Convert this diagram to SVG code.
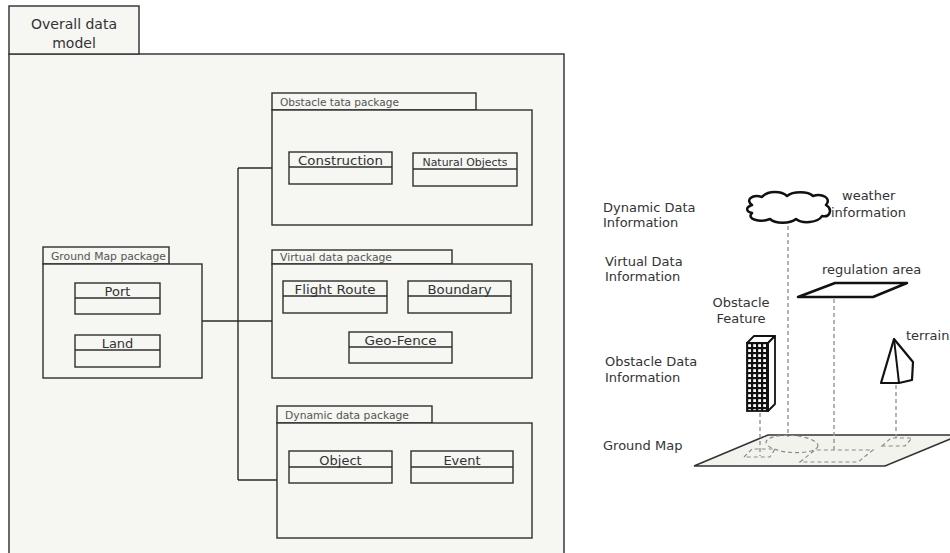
<svg xmlns="http://www.w3.org/2000/svg" width="950" height="553" viewBox="0 0 950 553">
  <style>
    .frame { fill: #f6f6f2; stroke: #3a3a3a; stroke-width: 1.5; }
    .pkg { fill: #f6f6f2; stroke: #2e2e2e; stroke-width: 1.4; }
    .cls { fill: #f6f6f2; stroke: #2e2e2e; stroke-width: 1.4; }
    .div { stroke: #2e2e2e; stroke-width: 1.3; }
    .wire { fill: none; stroke: #2a2a2a; stroke-width: 1.4; }
    .title { font-family: "DejaVu Sans", Verdana, sans-serif; font-size: 14px; fill: #333; text-anchor: middle; }
    .pkglbl { font-family: "DejaVu Sans", Verdana, sans-serif; font-size: 10.5px; fill: #555; }
    .clslbl { font-family: "DejaVu Sans", Verdana, sans-serif; font-size: 13px; fill: #333; text-anchor: middle; }
    .lbl { font-family: "DejaVu Sans", Verdana, sans-serif; font-size: 13px; fill: #333; }
    .drop { fill: none; stroke: #9a9a9a; stroke-width: 1.5; stroke-dasharray: 4 3; }
    .foot { fill: none; stroke: #8a8a8a; stroke-width: 1.2; stroke-dasharray: 4 3; }
    .solid { fill: #fff; stroke: #111; stroke-width: 2.5; stroke-linejoin: round; }
  </style>
  <defs>
    <pattern id="windows" x="747" y="343" width="5" height="5" patternUnits="userSpaceOnUse">
      <rect x="1.2" y="1.2" width="2.8" height="2.8" fill="#fff"/>
    </pattern>
  </defs>

  <rect width="950" height="553" fill="#fff"/>

  <!-- Outer model frame -->
  <g id="overall-model">
    <rect class="frame" x="9" y="54" width="555" height="510"/>
    <rect class="frame" x="9" y="6" width="130" height="48"/>
    <text class="title" x="74" y="29">Overall data</text>
    <text class="title" x="74" y="48">model</text>
  </g>

  <!-- Connectors between packages -->
  <g id="connectors">
    <path class="wire" d="M202,321 H238"/>
    <path class="wire" d="M238,168 V480"/>
    <path class="wire" d="M238,168 H272"/>
    <path class="wire" d="M238,321 H272"/>
    <path class="wire" d="M238,480 H277"/>
  </g>

  <g id="obstacle-package">
    <rect class="pkg" x="272" y="93" width="204" height="17"/>
    <rect class="pkg" x="272" y="110" width="260" height="115"/>
    <text class="pkglbl" x="280" y="106" textLength="119" lengthAdjust="spacingAndGlyphs">Obstacle tata package</text>
    <g id="construction">
      <rect class="cls" x="289" y="152" width="103" height="32"/>
      <line class="div" x1="289" y1="167" x2="392" y2="167"/>
      <text class="clslbl" x="340.5" y="165" textLength="85" lengthAdjust="spacingAndGlyphs">Construction</text>
    </g>
    <g id="natural-objects">
      <rect class="cls" x="413" y="153" width="104" height="33"/>
      <line class="div" x1="413" y1="169" x2="517" y2="169"/>
      <text class="clslbl" x="465" y="166" style="font-size:10.5px" textLength="85" lengthAdjust="spacingAndGlyphs">Natural Objects</text>
    </g>
  </g>

  <g id="ground-map-package">
    <rect class="pkg" x="43" y="247" width="126" height="17"/>
    <rect class="pkg" x="43" y="264" width="159" height="114"/>
    <text class="pkglbl" x="51" y="260" textLength="115" lengthAdjust="spacingAndGlyphs">Ground Map package</text>
    <g id="port">
      <rect class="cls" x="75" y="283" width="85" height="31"/>
      <line class="div" x1="75" y1="298" x2="160" y2="298"/>
      <text class="clslbl" x="117.5" y="296">Port</text>
    </g>
    <g id="land">
      <rect class="cls" x="75" y="335" width="85" height="32"/>
      <line class="div" x1="75" y1="350" x2="160" y2="350"/>
      <text class="clslbl" x="117.5" y="348">Land</text>
    </g>
  </g>

  <g id="virtual-package">
    <rect class="pkg" x="272" y="250" width="180" height="14"/>
    <rect class="pkg" x="272" y="264" width="260" height="114"/>
    <text class="pkglbl" x="280" y="261" textLength="112" lengthAdjust="spacingAndGlyphs">Virtual data package</text>
    <g id="flight-route">
      <rect class="cls" x="283" y="281" width="104" height="32"/>
      <line class="div" x1="283" y1="296" x2="387" y2="296"/>
      <text class="clslbl" x="335" y="294" textLength="81" lengthAdjust="spacingAndGlyphs">Flight Route</text>
    </g>
    <g id="boundary">
      <rect class="cls" x="408" y="281" width="103" height="32"/>
      <line class="div" x1="408" y1="296" x2="511" y2="296"/>
      <text class="clslbl" x="459.5" y="294" textLength="64" lengthAdjust="spacingAndGlyphs">Boundary</text>
    </g>
    <g id="geo-fence">
      <rect class="cls" x="349" y="332" width="103" height="31"/>
      <line class="div" x1="349" y1="347" x2="452" y2="347"/>
      <text class="clslbl" x="400.5" y="345" textLength="72" lengthAdjust="spacingAndGlyphs">Geo-Fence</text>
    </g>
  </g>

  <g id="dynamic-package">
    <rect class="pkg" x="277" y="406" width="155" height="17"/>
    <rect class="pkg" x="277" y="423" width="255" height="115"/>
    <text class="pkglbl" x="285" y="419" textLength="124" lengthAdjust="spacingAndGlyphs">Dynamic data package</text>
    <g id="object">
      <rect class="cls" x="289" y="451" width="103" height="32"/>
      <line class="div" x1="289" y1="467" x2="392" y2="467"/>
      <text class="clslbl" x="340.5" y="465">Object</text>
    </g>
    <g id="event">
      <rect class="cls" x="411" y="451" width="102" height="32"/>
      <line class="div" x1="411" y1="467" x2="513" y2="467"/>
      <text class="clslbl" x="462" y="465">Event</text>
    </g>
  </g>

  <!-- Layer illustration -->
  <g id="layer-labels">
    <text class="lbl" x="603" y="212">Dynamic Data</text>
    <text class="lbl" x="603" y="227">Information</text>
    <text class="lbl" x="605" y="266">Virtual Data</text>
    <text class="lbl" x="605" y="281">Information</text>
    <text class="lbl" x="605" y="366">Obstacle Data</text>
    <text class="lbl" x="605" y="382">Information</text>
    <text class="lbl" x="603" y="450">Ground Map</text>
  </g>

  <g id="ground-map">
    <polygon points="694,466 768,435 960,435 885,466" fill="#f3f3ee" stroke="#333" stroke-width="1.5"/>
    <polygon class="foot" points="744,457 752,449 775,449 770,457"/>
    <ellipse class="foot" cx="792" cy="444" rx="26" ry="8.5" transform="rotate(4 792 444)"/>
    <polygon class="foot" points="800,462 815,450 873,450 858,462"/>
    <polygon class="foot" points="882,446 891,438 912,438 905,446"/>
  </g>

  <g id="drop-lines">
    <line class="drop" x1="788" y1="226" x2="788" y2="437"/>
    <line class="drop" x1="834" y1="299" x2="834" y2="450"/>
    <line class="drop" x1="760" y1="413" x2="760" y2="456"/>
    <line class="drop" x1="896" y1="385" x2="896" y2="438"/>
  </g>

  <g id="weather">
    <path class="solid" d="M752,205 C745,200 752,194 762,197 C768,190 782,191 787,196 C793,191 808,191 813,196 C822,193 832,198 826,205 C833,209 830,218 822,216 C818,223 802,224 796,219 C790,224 775,224 770,219 C760,223 746,219 752,213 C745,211 746,207 752,205 Z"/>
    <text class="lbl" x="842" y="200">weather</text>
    <text class="lbl" x="831" y="217">information</text>
  </g>

  <g id="regulation-area">
    <polygon class="solid" points="798,297 835,283 907,283 873,297"/>
    <text class="lbl" x="822" y="274">regulation area</text>
  </g>

  <g id="obstacle-feature">
    <text class="lbl" x="741" y="307" text-anchor="middle">Obstacle</text>
    <text class="lbl" x="741" y="323" text-anchor="middle">Feature</text>
    <polygon points="747,343 754,336 775,336 768,343" fill="#fff" stroke="#111" stroke-width="1.8" stroke-linejoin="round"/>
    <polygon points="768,343 775,336 775,404 768,411" fill="#fff" stroke="#111" stroke-width="1.8" stroke-linejoin="round"/>
    <rect x="747" y="343" width="21" height="68" fill="#111"/>
    <rect x="747" y="343" width="21" height="68" fill="url(#windows)"/>
    <rect x="747" y="343" width="21" height="68" fill="none" stroke="#111" stroke-width="1.8"/>
  </g>

  <g id="terrain">
    <polygon class="solid" points="894,339 881,383 899,383 912,380 913,362" style="stroke-width:2.2"/>
    <line x1="894" y1="339" x2="899" y2="383" stroke="#111" stroke-width="2"/>
    <text class="lbl" x="906" y="340">terrain</text>
  </g>
</svg>
